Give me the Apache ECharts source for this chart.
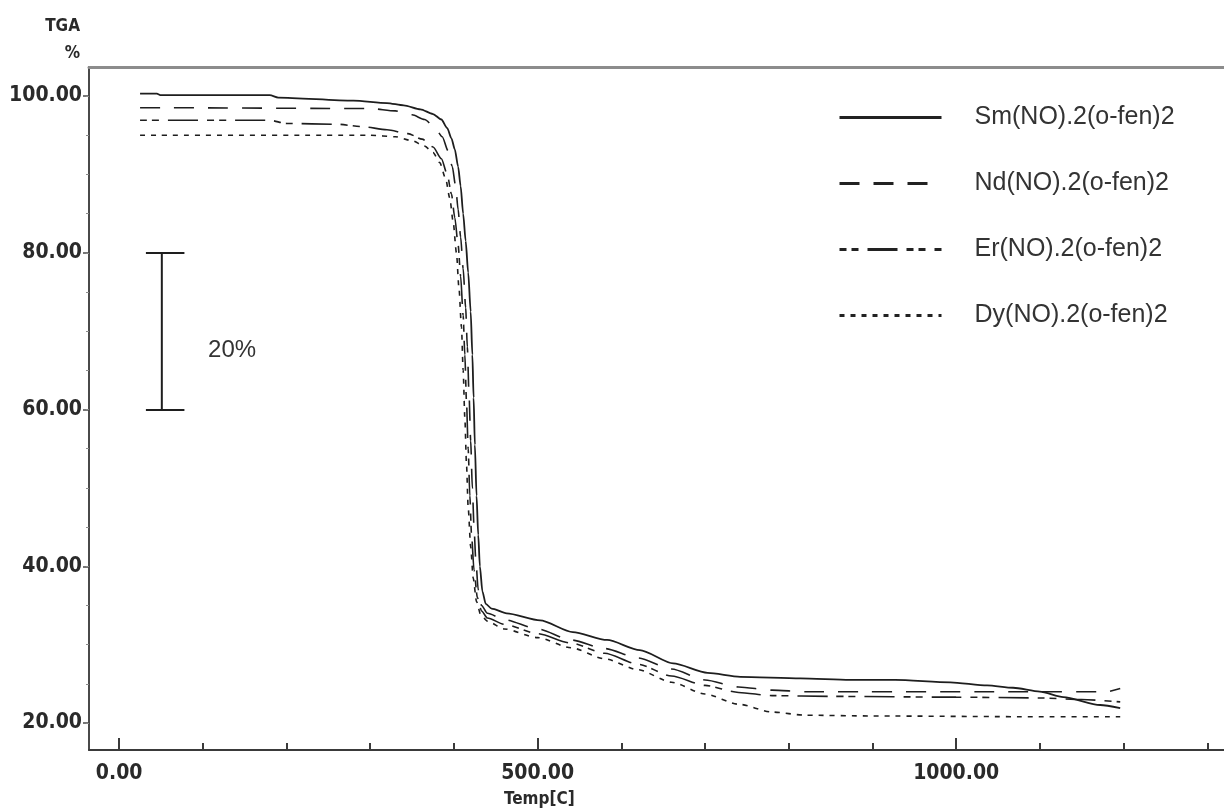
<!DOCTYPE html>
<html><head><meta charset="utf-8">
<script src="https://cdn.jsdelivr.net/npm/echarts@6/dist/echarts.min.js"></script>
<style>html,body{margin:0;padding:0;background:#fff}#c{width:1224px;height:811px}</style>
</head><body><div id="c"></div>
<script>
// ---- data ----
const seriesNames = ['Sm(NO).2(o-fen)2', 'Nd(NO).2(o-fen)2', 'Er(NO).2(o-fen)2', 'Dy(NO).2(o-fen)2'];

const smData = [[25,100.3],[45,100.3],[50,100.1],[180,100.1],[190,99.8],[280,99.4],[320,99.1],[340,98.8],[360,98.3],[375,97.7],[385,97.0],[392,95.9],[397,94.6],[401,93.2],[405,91.0],[408,88.5],[411,85.0],[414,81.5],[417,77.5],[420,72.5],[422,67.0],[423.5,61.5],[425,55.5],[427,49.0],[429,44.0],[431,40.0],[434,36.8],[438,35.2],[445,34.6],[463,34.0],[503,33.1],[542,31.6],[583,30.6],[622,29.3],[662,27.6],[703,26.4],[742,25.9],[814,25.7],[873,25.5],[927,25.5],[993,25.2],[1037,24.8],[1068,24.5],[1100,24.0],[1128,23.3],[1172,22.3],[1196,21.9]];

const ndData = [[25,98.5],[60,98.5],[300,98.4],[330,98.1],[350,97.6],[365,97.0],[377,96.0],[386,94.8],[393,93.0],[398,91.0],[402,88.5],[405,85.5],[408,82.0],[411,78.0],[414,73.0],[416,68.0],[418,62.0],[420,56.0],[422,50.0],[424,45.0],[426,41.0],[429,37.0],[433,35.0],[440,34.0],[460,33.2],[500,32.0],[540,30.6],[580,29.5],[620,28.3],[660,26.9],[700,25.5],[740,24.6],[780,24.2],[820,24.0],[1100,24.0],[1180,24.0],[1196,24.4]];

const erData = [[25,96.9],[180,96.9],[200,96.5],[260,96.4],[290,96.1],[320,95.7],[345,95.2],[362,94.5],[375,93.5],[385,92.0],[392,90.0],[397,87.5],[401,84.5],[405,81.0],[408,77.0],[411,72.0],[413,67.0],[415,61.0],[417,55.0],[419,49.0],[421,44.0],[424,39.5],[428,36.0],[433,34.3],[440,33.4],[460,32.6],[500,31.4],[540,30.2],[580,28.9],[620,27.5],[660,26.0],[700,24.8],[740,23.9],[780,23.5],[850,23.4],[1000,23.3],[1100,23.2],[1150,23.0],[1196,22.7]];

const dyData = [[25,95.0],[300,95.0],[330,94.8],[350,94.3],[365,93.6],[375,92.8],[383,91.5],[390,89.5],[395,87.0],[399,84.0],[403,80.0],[406,75.5],[409,70.5],[411,65.0],[413,59.0],[415,53.0],[417,47.5],[420,42.5],[423,38.5],[427,35.5],[432,33.8],[440,33.0],[460,32.0],[500,30.9],[540,29.6],[580,28.2],[620,26.8],[660,25.2],[700,23.7],[740,22.4],[780,21.4],[820,21.0],[900,20.9],[1100,20.8],[1196,20.8]];

const xLabelValues = [0, 500, 1000];
const xMinorTicks = [0,100,200,300,400,500,600,700,800,900,1000,1100,1200,1300];
const yLabelValues = [20, 40, 60, 80, 100];
const yMinorTicks = [20,25,30,35,40,45,50,55,60,65,70,75,80,85,90,95,100];

// scale bar: vertical bar and its two caps (temperature, %)
const scaleBarLine = [[51,80],[51,60]];
const scaleBarCaps = [[[32,80],[78,80]], [[32,60],[78,60]]];
const scaleBarText = {label: '20%', at: [135, 67.5]};

// ---- chart ----
const X_MIN = -36, X_MAX = 1320, Y_MIN = 16.56, Y_MAX = 103.7;
const axisFont = "'DejaVu Sans Condensed', 'DejaVu Sans', sans-serif";
const textFont = "'Liberation Sans', Arial, sans-serif";
const lineColor = '#1e1e1e';

const chart = echarts.init(document.getElementById('c'), null, {renderer: 'canvas'});

function curve(name, data, type, width) {
  return {
    name, type: 'line', data, symbol: 'none', showSymbol: false,
    smooth: 0.25, smoothMonotone: 'x',
    xAxisIndex: 0, yAxisIndex: 0,
    lineStyle: {color: lineColor, width: width, type: type},
    itemStyle: {color: lineColor},
    emphasis: {disabled: true}, silent: true
  };
}

chart.setOption({
  animation: false,
  backgroundColor: '#ffffff',
  grid: {left: 89, top: 67, right: 0, bottom: 61, containLabel: false},
  title: {
    text: 'Temp[C]', left: 504, top: 791, padding: 0,
    textStyle: {fontFamily: axisFont, fontWeight: 'bold', fontSize: 17, color: '#2a2a2a'}
  },
  legend: {
    data: seriesNames, orient: 'vertical', left: 838, top: 105, padding: 0,
    itemWidth: 102, itemHeight: 14, itemGap: 41,
    lineStyle: {width: 3, color: '#222'},
    itemStyle: {color: 'rgba(0,0,0,0)', borderWidth: 0, opacity: 0},
    textStyle: {fontFamily: textFont, fontSize: 25, color: '#333', padding: [0, 0, 0, 28], lineHeight: 14},
    selectedMode: false
  },
  xAxis: [
    {
      type: 'value', min: X_MIN, max: X_MAX, position: 'bottom',
      axisLine: {show: true, onZero: false, lineStyle: {color: '#3a3a3a', width: 2}},
      axisTick: {show: true, inside: true, length: 12, customValues: xLabelValues, lineStyle: {color: '#3a3a3a', width: 2}},
      axisLabel: {show: true, customValues: xLabelValues, margin: 13, formatter: v => v.toFixed(2),
        fontFamily: axisFont, fontWeight: 'bold', fontSize: 21, color: '#2a2a2a'},
      splitLine: {show: false}
    },
    {
      type: 'value', min: X_MIN, max: X_MAX, position: 'bottom',
      axisLine: {show: false, onZero: false},
      axisTick: {show: true, inside: true, length: 7, customValues: xMinorTicks, lineStyle: {color: '#3a3a3a', width: 2}},
      axisLabel: {show: false}, splitLine: {show: false}
    },
    {
      type: 'value', min: X_MIN, max: X_MAX, position: 'top',
      axisLine: {show: true, onZero: false, lineStyle: {color: '#8c8c8c', width: 3}},
      axisTick: {show: false}, axisLabel: {show: false}, splitLine: {show: false}
    }
  ],
  yAxis: [
    {
      type: 'value', min: Y_MIN, max: Y_MAX, position: 'left',
      name: 'TGA\n%', nameLocation: 'end', nameGap: 0,
      nameTextStyle: {align: 'right', verticalAlign: 'bottom', fontFamily: axisFont, fontWeight: 'bold',
        fontSize: 17, lineHeight: 27, color: '#2a2a2a', padding: [0, 9, 0, 0]},
      axisLine: {show: true, onZero: false, lineStyle: {color: '#4a4a4a', width: 2}},
      axisTick: {show: true, inside: false, length: 6, customValues: yLabelValues, lineStyle: {color: '#4a4a4a', width: 1.5}},
      axisLabel: {show: true, customValues: yLabelValues, margin: 7, formatter: v => v.toFixed(2),
        fontFamily: axisFont, fontWeight: 'bold', fontSize: 21, color: '#2a2a2a'},
      splitLine: {show: false}
    },
    {
      type: 'value', min: Y_MIN, max: Y_MAX, position: 'left',
      axisLine: {show: false, onZero: false},
      axisTick: {show: true, inside: false, length: 3, customValues: yMinorTicks, lineStyle: {color: '#8a8a8a', width: 1}},
      axisLabel: {show: false}, splitLine: {show: false}
    }
  ],
  series: [
    curve(seriesNames[0], smData, 'solid', 1.8),
    curve(seriesNames[1], ndData, [20, 14], 1.6),
    curve(seriesNames[2], erData, [7, 5, 7, 9, 30, 9], 1.6),
    curve(seriesNames[3], dyData, [5, 6], 1.6),
    {
      name: 'scale', type: 'line', data: scaleBarLine, symbol: 'none', silent: true,
      lineStyle: {color: lineColor, width: 2, type: 'solid'},
      markLine: {
        silent: true, symbol: ['none', 'none'], animation: false,
        label: {show: false},
        lineStyle: {color: lineColor, width: 2, type: 'solid'},
        emphasis: {disabled: true},
        data: scaleBarCaps.map(seg => [{coord: seg[0]}, {coord: seg[1]}])
      },
      markPoint: {
        silent: true, symbol: 'circle', symbolSize: 1, itemStyle: {color: 'rgba(0,0,0,0)'},
        label: {show: true, position: 'inside', formatter: scaleBarText.label,
          fontFamily: textFont, fontSize: 24, color: '#333'},
        data: [{coord: scaleBarText.at}]
      }
    }
  ]
});
</script></body></html>
